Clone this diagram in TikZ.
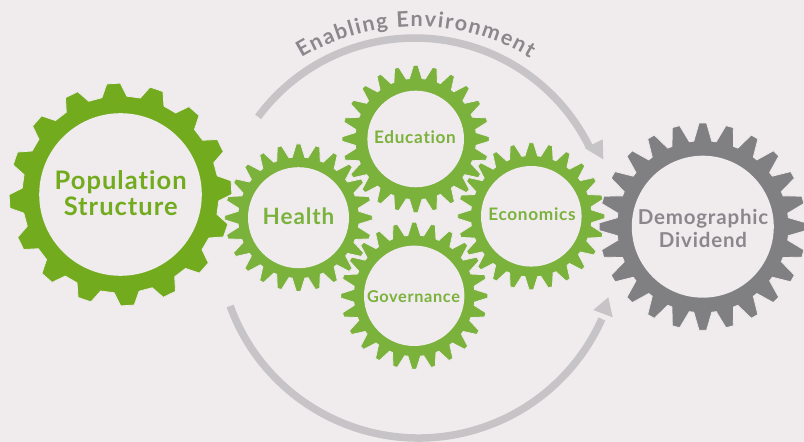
\documentclass[tikz,border=0pt]{standalone}
\usepackage{fontspec}
\setmainfont[LetterSpace=4,Ligatures=CommonOff]{Lato}
\newfontfamily\arcfont[Ligatures=CommonOff]{Lato}
\usetikzlibrary{decorations.text}
\definecolor{bgc}{HTML}{F0EBED}
\definecolor{biggreen}{HTML}{72AC1E}
\definecolor{midgreen}{HTML}{7AB23C}
\definecolor{geargray}{HTML}{808083}
\definecolor{arcgray}{HTML}{C6C4C7}
\definecolor{textgray}{HTML}{8A888C}
\newcommand{\gearring}[9]{%
 % cx cy teeth offset rtip rroot halftip halfbase colour
 \begin{scope}[shift={(#1,#2)}]
 \filldraw[fill=#9,draw=bgc,line width=0.8pt,line join=miter]
   (#4+#8:#6) \foreach \i [evaluate=\i as \a using #4+\i*360/#3] in {1,...,#3}
   { -- (\a-#8:#6) -- (\a-#7:#5) -- (\a+#7:#5) -- (\a+#8:#6) } -- cycle;
 \end{scope}}
\tikzset{
 hole/.style={circle,fill=bgc,inner sep=0pt},
 lab/.style={anchor=base,inner sep=0pt,font=\fontsize{#1}{#1}\selectfont\bfseries},
 flowarc/.style={draw=arcgray,line width=7.5pt},
 flowhead/.style={fill=arcgray}
}
\begin{document}
\begin{tikzpicture}[x=1pt,y=1pt]
\fill[bgc] (0,0) rectangle (804,442);
\useasboundingbox (0,0) rectangle (804,442);
% arcs
\coordinate (enablingStart) at (258.1,325.1);
\coordinate (lowerStart) at (230.1,136);
\draw[flowarc] (enablingStart) arc[start angle=143.5,end angle=26,radius=194.7];
\fill[flowhead] (603.3,282.7) -- (585,293.7) -- (602.7,302.7) -- cycle;
\draw[flowarc] (lowerStart) arc[start angle=200,end angle=336,radius=200.6];
\fill[flowhead] (608.3,144.7) -- (593.3,132) -- (612.7,124.7) -- cycle;
\coordinate (labelStart) at (301.3,384.0);
\path[decorate,decoration={text along path,text align=fit to path,
  text={|\arcfont\bfseries\fontsize{21.5}{21.5}\selectfont\color{textgray}|Enabling Environment}}]
  (labelStart) arc[start angle=121,end angle=59,radius=222];
% gears
\gearring{702.8}{215.3}{24}{90}{103.7}{86}{2.1}{6}{geargray}
\gearring{120.5}{247.5}{16}{93.6}{111.4}{98.5}{3.5}{7.3}{biggreen}
\gearring{415.7}{303}{24}{90}{73.7}{60.7}{1.7}{6}{midgreen}
\gearring{414.2}{146.2}{24}{90}{73.6}{60.7}{1.7}{6}{midgreen}
\gearring{298.5}{224.3}{24}{90}{73.8}{60.7}{1.7}{6}{midgreen}
\gearring{531.3}{225.7}{24}{90}{73.6}{60.7}{1.7}{6}{midgreen}
\node[hole,minimum size=162.6pt] (popHole) at (120.5,247.5) {};
\node[hole,minimum size=101pt] (healthHole) at (298.5,224.3) {};
\node[hole,minimum size=96.6pt] (eduHole) at (415.7,303) {};
\node[hole,minimum size=100.6pt] (ecoHole) at (531.3,225.7) {};
\node[hole,minimum size=100.4pt] (govHole) at (414.2,146.2) {};
\node[hole,minimum size=142pt] (demoHole) at (702.8,215.3) {};
% labels
\node[lab=25.5,text=biggreen] (population) at (120.7,252) {Population};
\node[lab=25.5,text=biggreen] (structure) at (120.7,226.3) {Structure};
\node[lab=22.5,text=midgreen] (health) at (298.5,217.7) {Health};
\node[lab=17.2,text=midgreen] (education) at (415,298.7) {Education};
\node[lab=17.2,text=midgreen] (economics) at (532,221) {Economics};
\node[lab=16.3,text=midgreen] (governance) at (413.5,139.7) {Governance};
\node[lab=20.5,text=textgray] (demographic) at (703,217) {Demographic};
\node[lab=20.5,text=textgray] (dividend) at (703,194.7) {Dividend};
\end{tikzpicture}
\end{document}
